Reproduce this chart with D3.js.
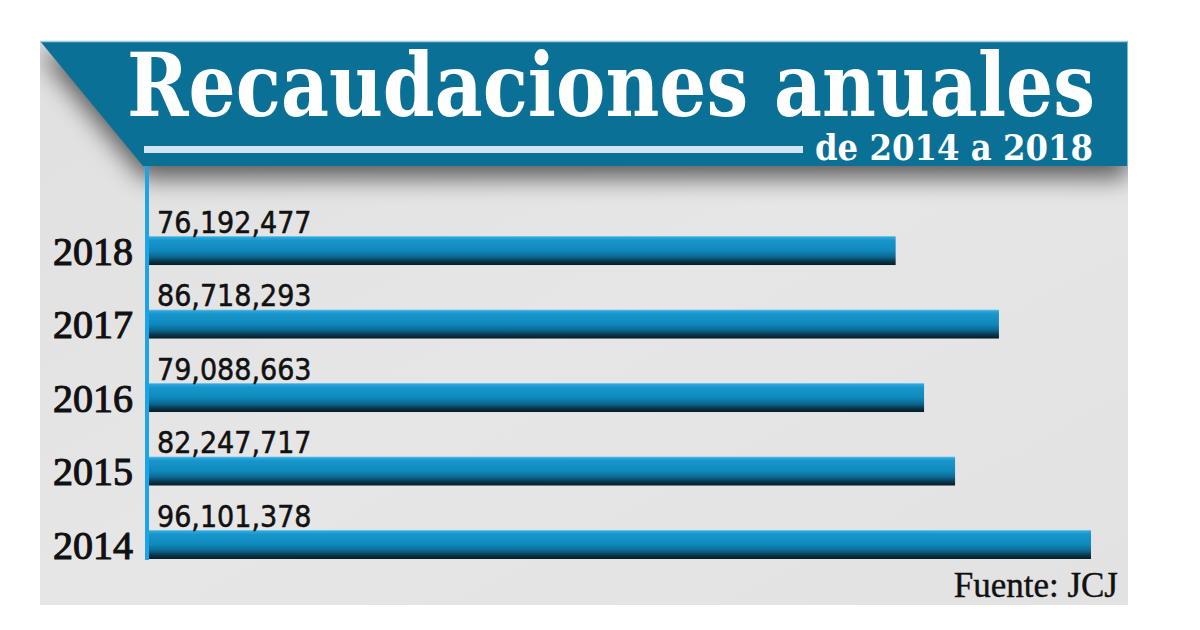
<!DOCTYPE html>
<html><head><meta charset="utf-8">
<script src="https://cdn.jsdelivr.net/npm/d3@7/dist/d3.min.js"></script>
<style>html,body{margin:0;padding:0;background:#fff;}</style>
</head><body>
<svg id="c" width="1200" height="630"></svg>
<script>
const years = ["2018","2017","2016","2015","2014"];
const values = [76192477, 86718293, 79088663, 82247717, 96101378];
const valueLabels = ["76,192,477","86,718,293","79,088,663","82,247,717","96,101,378"];
const title = "Recaudaciones anuales";
const subtitle = "de 2014 a 2018";
const source = "Fuente: JCJ";

const svg = d3.select("#c");
const defs = svg.append("defs");

const g1 = defs.append("linearGradient").attr("id","barG").attr("x1",0).attr("y1",0).attr("x2",0).attr("y2",1);
[[0,"#8fd0ee"],[0.05,"#2ea6db"],[0.15,"#1796cc"],[0.5,"#0f89bd"],[0.72,"#0c6690"],[0.88,"#083447"],[1,"#061c26"]]
  .forEach(s=>g1.append("stop").attr("offset",s[0]).attr("stop-color",s[1]));

const pg = defs.append("linearGradient").attr("id","panelG").attr("x1",0).attr("y1",0).attr("x2",1).attr("y2",1);
[[0,"#e0e0e0"],[0.5,"#e6e6e6"],[1,"#e2e2e2"]].forEach(s=>pg.append("stop").attr("offset",s[0]).attr("stop-color",s[1]));

const f = defs.append("filter").attr("id","sh").attr("x","-20%").attr("y","-20%").attr("width","140%").attr("height","160%");
f.append("feGaussianBlur").attr("in","SourceAlpha").attr("stdDeviation",12);
f.append("feOffset").attr("dx",0).attr("dy",12).attr("result","b");
f.append("feComponentTransfer").append("feFuncA").attr("type","linear").attr("slope",0.6);

defs.append("clipPath").attr("id","panelClip").append("rect")
  .attr("x",40).attr("y",41).attr("width",1088).attr("height",564);

svg.append("rect").attr("x",40).attr("y",41).attr("width",1088).attr("height",564).attr("fill","url(#panelG)");

const headerPts = [[40,41],[1128,41],[1128,166],[143,166]];
const line = d3.line();
svg.append("g").attr("clip-path","url(#panelClip)")
  .append("path").attr("d", line(headerPts)+"Z").attr("fill","#000").attr("filter","url(#sh)");
svg.append("path").attr("d", line(headerPts)+"Z").attr("fill","#0b7095");
svg.append("line").attr("x1",40).attr("x2",1128).attr("y1",41.5).attr("y2",41.5).attr("stroke","#9fcbe0").attr("stroke-width",1.5);
svg.append("line").attr("x1",1127.5).attr("x2",1127.5).attr("y1",41).attr("y2",166).attr("stroke","#7fb8d3").attr("stroke-width",1);

function fitText(sel, x0, y0, w) {
  const bw = sel.node().getComputedTextLength();
  sel.attr("transform", `translate(${x0},${y0}) scale(${w/bw},1)`);
}
const t = svg.append("text").attr("x",0).attr("y",0)
  .attr("font-family","'DejaVu Serif',serif").attr("font-weight","bold")
  .attr("font-size",88).attr("fill","#fff").text(title);
fitText(t, 127, 116, 968);
svg.append("rect").attr("x",144).attr("y",146).attr("width",659).attr("height",7).attr("fill","#d2e5f1");
const st = svg.append("text").attr("x",0).attr("y",0)
  .attr("font-family","'DejaVu Serif',serif").attr("font-weight","bold")
  .attr("font-size",36).attr("fill","#fff").text(subtitle);
fitText(st, 815, 160, 278);

const x = d3.scaleLinear().domain([0, 96101378]).range([148, 1091]);
const y = d3.scaleBand().domain(years).range([236, 559]).paddingInner(0.605).paddingOuter(0);

svg.append("g").selectAll("rect").data(years).join("rect")
  .attr("x", x(0)).attr("y", d=>y(d))
  .attr("width", (d,i)=>x(values[i])-x(0)).attr("height", y.bandwidth())
  .attr("fill","url(#barG)");

svg.append("g").selectAll("text").data(years).join("text")
  .attr("x", x(0)+9).attr("y", d=>y(d)-3)
  .attr("font-family","'DejaVu Sans Condensed','DejaVu Sans',sans-serif")
  .attr("font-size",30).attr("fill","#111").attr("stroke","#111").attr("stroke-width",0.5)
  .text((d,i)=>valueLabels[i]);

const ax = svg.append("g").attr("transform",`translate(${x(0)-1},0)`)
  .call(d3.axisLeft(y).tickSize(0).tickPadding(14));
ax.select(".domain").remove();
ax.selectAll("text").attr("font-family","'Liberation Serif',serif").attr("font-size",40)
  .attr("fill","#111").attr("stroke","#111").attr("stroke-width",1.1).attr("dy","0.36em");
svg.append("line").attr("x1",147).attr("x2",147).attr("y1",166).attr("y2",560)
  .attr("stroke","#1da4e6").attr("stroke-width",4);

svg.append("text").attr("x",1118).attr("y",597).attr("text-anchor","end")
  .attr("font-family","'Liberation Serif',serif").attr("font-size",35).attr("fill","#111")
  .attr("stroke","#111").attr("stroke-width",0.4).text(source);
</script>
</body></html>
